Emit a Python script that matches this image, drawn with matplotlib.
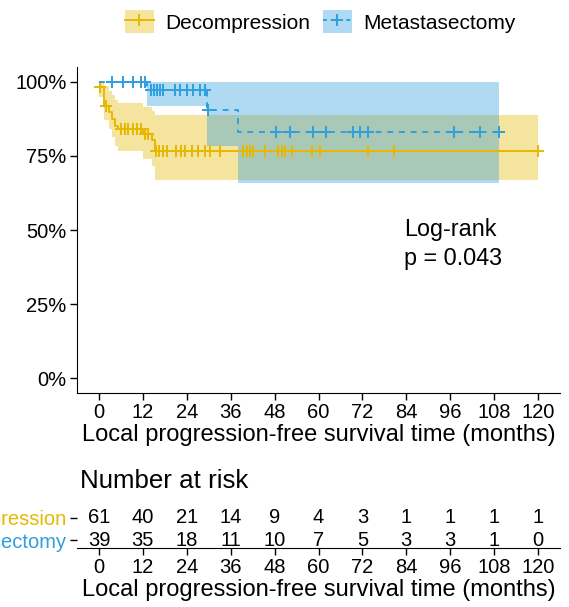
import numpy as np
import matplotlib.pyplot as plt
from matplotlib.lines import Line2D
from matplotlib.patches import Patch
from matplotlib.ticker import PercentFormatter

plt.rcParams['font.family'] = ['Liberation Sans', 'DejaVu Sans']

groups = ['Decompression', 'Metastasectomy']
colors = ['#E7B800', '#2E9FDF']

# Decompression: step times, survival after step, 95% CI
dec_t = [0, 1.5, 2.8, 3.5, 4.5, 5.3, 12.0, 14.5, 15.2]
dec_s = [0.984, 0.918, 0.897, 0.875, 0.852, 0.840, 0.823, 0.805, 0.767]
dec_lo = [0.95, 0.87, 0.84, 0.815, 0.785, 0.765, 0.74, 0.715, 0.669]
dec_hi = [1.0, 0.985, 0.97, 0.955, 0.94, 0.93, 0.915, 0.90, 0.888]
dec_end = 120.0
dec_cens = [0.3, 1.8, 6, 7, 8, 9.3, 10.5, 11.5, 12.5, 13.5,
            15.5, 16.5, 17.5, 18.5, 21, 22.5, 23.5, 25.5, 27, 29, 30.3, 33,
            39.4, 40.4, 41.3, 42.2, 45.4, 49, 49.9, 50.8, 52.7, 58.1, 60.4,
            73.6, 80.5, 120]

# Metastasectomy
met_t = [0, 13.0, 29.5, 38.0]
met_s = [1.0, 0.974, 0.905, 0.829]
met_lo = [1.0, 0.917, 0.785, 0.658]
met_hi = [1.0, 1.0, 1.0, 1.0]
met_end = 109.2
met_cens = [3.7, 6.5, 9.2, 11.5, 12.6,
            14.2, 15.0, 15.8, 16.7, 17.6, 20.8, 22.1, 24.0, 25.8, 27.6, 29.0,
            29.9,
            48.4, 52.2, 58.6, 62.1, 69.4, 71.4, 73.6, 96.9, 104.2, 109.2]

time_ticks = list(range(0, 121, 12))
risk_dec = [61, 40, 21, 14, 9, 4, 3, 1, 1, 1, 1]
risk_met = [39, 35, 18, 11, 10, 7, 5, 3, 3, 1, 0]

pval_text = 'Log-rank\np = 0.043'


def level_at(t, times, surv):
    idx = np.searchsorted(times, t, side='right') - 1
    return np.asarray(surv)[idx]


fig = plt.figure(figsize=(5.69, 6.07), dpi=100)
W, H = 569, 607
ax = fig.add_axes([77 / W, 1 - 393 / H, 483 / W, 326 / H])

curves = [
    (dec_t, dec_s, dec_lo, dec_hi, dec_end, dec_cens, '-'),
    (met_t, met_s, met_lo, met_hi, met_end, met_cens, (0, (3, 3))),
]
alpha = 0.38
for (t, s, lo, hi, end, cens, ls), col in zip(curves, colors):
    x = np.append(t, end)
    ax.fill_between(x, np.append(lo, lo[-1]), np.append(hi, hi[-1]),
                    step='post', color=col, alpha=alpha, lw=0)
for (t, s, lo, hi, end, cens, ls), col in zip(curves, colors):
    x = np.append(t, end)
    ax.step(x, np.append(s, s[-1]), where='post', color=col, lw=1.4, ls=ls)
    ax.plot(cens, level_at(cens, t, s), '+', color=col, ms=8.5, mew=1.4)

ax.set_xlim(-6, 126)
ax.set_ylim(-0.05, 1.05)
ax.set_xticks(time_ticks)
ax.set_yticks([0, 0.25, 0.5, 0.75, 1.0])
ax.yaxis.set_major_formatter(PercentFormatter(1.0, decimals=0))
ax.spines[['top', 'right']].set_visible(False)
ax.tick_params(labelsize=14.5, length=5, width=1, colors='black', pad=2.5)
ax.set_xlabel('Local progression-free survival time (months)', fontsize=17,
              labelpad=1)
ax.text(83.5, 0.54, pval_text, fontsize=16.8, va='top', ha='left',
        linespacing=1.3)

handles = [(Patch(facecolor=c, alpha=alpha, lw=0),
            Line2D([], [], color=c, ls=ls, lw=1.4, marker='+', ms=8.5, mew=1.4))
           for c, ls in zip(colors, ['-', (0, (2, 2))])]
fig.legend(handles, groups, loc='center', bbox_to_anchor=(0.563, 0.964),
           ncol=2, frameon=False, fontsize=15, handlelength=1.4,
           handleheight=1.3, handletextpad=0.55, columnspacing=0.6)

# risk table
fig.text(80 / W, 1 - 481 / H, 'Number at risk', fontsize=18.6,
         ha='left', va='center')
rt = fig.add_axes([77 / W, 1 - 548 / H, 483 / W, 38 / H])
rt.set_xlim(-6, 126)
rt.set_ylim(0.64, 2.36)
for yv, counts in zip([2, 1], [risk_dec, risk_met]):
    for tt, n in zip(time_ticks, counts):
        rt.text(tt, yv, str(n), fontsize=14.5, ha='center', va='center')
rt.set_xticks(time_ticks)
rt.set_yticks([2, 1])
rt.set_yticklabels(groups)
rt.spines[['top', 'right', 'left']].set_visible(False)
rt.tick_params(labelsize=14.5, length=5, width=1, colors='black', pad=2.5)
for lab, c in zip(rt.get_yticklabels(), colors):
    lab.set_color(c)
rt.set_xlabel('Local progression-free survival time (months)', fontsize=17,
              labelpad=1)

fig.savefig('out.png', dpi=100, facecolor='white')
